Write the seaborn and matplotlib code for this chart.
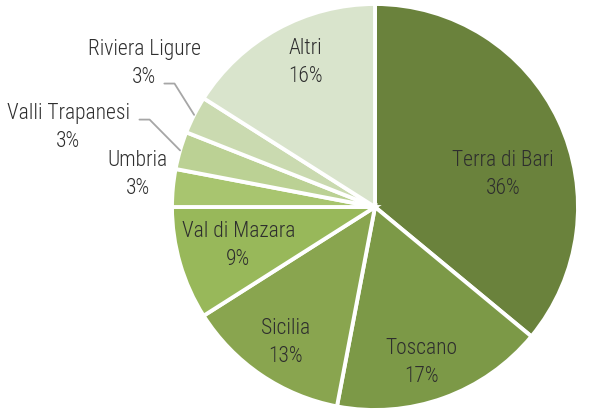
import matplotlib
matplotlib.use("Agg")
import matplotlib.pyplot as plt
import numpy as np
import seaborn as sns

# slices, clockwise from 12 o'clock
regions = ['Terra di Bari', 'Toscano', 'Sicilia', 'Val di Mazara',
           'Umbria', 'Valli Trapanesi', 'Riviera Ligure', 'Altri']
shares = [36, 17, 13, 9, 3, 3, 3, 16]
colors = ['#6a823c', '#7c9947', '#89a54f', '#98b85a',
          '#a8c56f', '#bbd194', '#cadab0', '#d9e4cc']

# label centres as (radius, angle offset in deg from slice middle) - layout only
label_pos = [(0.65, -10.9), (0.80, -3.2), (0.80, 0.9), (0.70, -0.4),
             (1.18, -2.4), (1.56, 1.7), (1.34, -4.9), (0.79, -3.2)]
# leader line start relative to label centre (None = no leader)
leader = [None, None, None, None, None, (0.35, 0.04), (0.10, -0.10), None]

sns.set_theme(style='white')
plt.rcParams['font.family'] = ['Liberation Sans Narrow', 'Roboto Condensed',
                               'Archivo Narrow', 'DejaVu Sans']

W, H = 590, 411
fig = plt.figure(figsize=(W / 100, H / 100), dpi=100)
cx, cy, R = 375, 207, 203
ax = fig.add_axes([(cx - R) / W, (H - cy - R) / H, 2 * R / W, 2 * R / H])

wedges, _ = ax.pie(shares, colors=colors, startangle=90, counterclock=False,
                   radius=1, wedgeprops=dict(edgecolor='white', linewidth=2.8))
ax.set_xlim(-1, 1)
ax.set_ylim(-1, 1)

total = sum(shares)
for w, name, val, (r, off), lead in zip(wedges, regions, shares, label_pos, leader):
    mid = np.deg2rad((w.theta1 + w.theta2) / 2)
    a = mid + np.deg2rad(off)
    tx, ty = r * np.cos(a), r * np.sin(a)
    txt = f'{name}\n{round(100 * val / total)}%'
    ax.text(tx, ty, txt, ha='center', va='center', fontsize=15.5,
            fontweight='light', color='#2e2e2e', linespacing=1.45)
    if lead is not None:
        ex, ey = np.cos(mid), np.sin(mid)
        px, py = tx + lead[0], ty + lead[1]
        ax.plot([px, px + 0.05, ex], [py, py, ey],
                color='#a6a6a6', lw=1.3, clip_on=False)

fig.savefig('out.png', dpi=100)
